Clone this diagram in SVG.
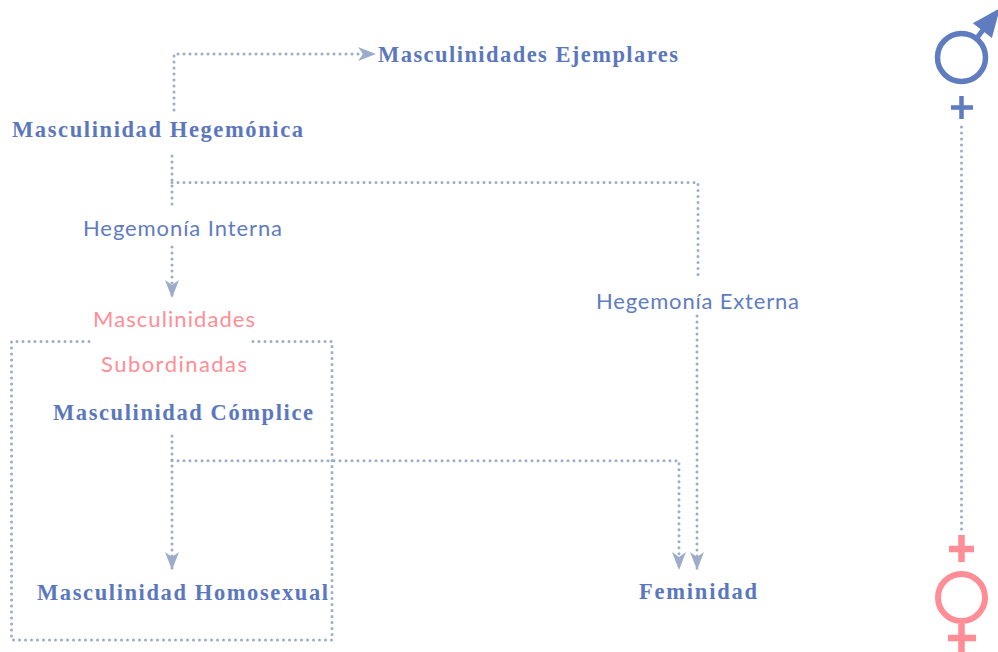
<svg xmlns="http://www.w3.org/2000/svg" width="998" height="652" viewBox="0 0 998 652">
<defs>
<style>
.serif{font-family:"Liberation Serif","Times New Roman",serif;font-weight:bold;font-size:22.5px;fill:#5b77bd;}
.sans{font-family:Lato,"Open Sans",sans-serif;font-size:22px;}
.blue{fill:#5f7cc0;}
.pink{fill:#ff8d95;}
.dot{fill:none;stroke:#9cadc9;stroke-width:3;stroke-linecap:round;stroke-dasharray:0 6;}
.arr{marker-end:url(#ah);}
</style>
<marker id="ah" markerUnits="userSpaceOnUse" markerWidth="20" markerHeight="16" refX="18" refY="7" orient="auto" viewBox="0 0 20 14">
<path d="M0,0 L18,7 L0,14 L5,7 z" fill="#9cadc9"/>
</marker>
</defs>
<rect width="998" height="652" fill="#ffffff"/>

<g id="connectors">
<path class="dot arr" d="M174,110 V54 H376"/>
<path class="dot" d="M172,156 V208"/>
<path class="dot" d="M172,182.5 H698 V280"/>
<path class="dot arr" d="M172,247 V298"/>
<path class="dot arr" d="M697,316 V570"/>
<path class="dot arr" d="M172,436 V570"/>
<path class="dot arr" d="M172,460.7 H679 V570"/>
<path class="dot" d="M961.5,127 V530"/>
</g>

<g id="box-subordinadas">
<path class="dot" d="M89,341.5 H11.5 V640 H332 V341.5 H250"/>
</g>

<g id="n-ejemplares"><text class="serif" x="378" y="62" textLength="300" lengthAdjust="spacing">Masculinidades Ejemplares</text></g>
<g id="n-hegemonica"><text class="serif" x="12" y="137" textLength="291" lengthAdjust="spacing">Masculinidad Hegemónica</text></g>
<g id="n-interna"><text class="sans blue" x="83" y="236" textLength="199" lengthAdjust="spacing">Hegemonía Interna</text></g>
<g id="n-externa"><text class="sans blue" x="596" y="309" textLength="203" lengthAdjust="spacing">Hegemonía Externa</text></g>
<g id="n-subordinadas">
<text class="sans pink" x="93" y="327" textLength="162" lengthAdjust="spacing">Masculinidades</text>
<text class="sans pink" x="101" y="372" textLength="146" lengthAdjust="spacing">Subordinadas</text>
</g>
<g id="n-complice"><text class="serif" x="53" y="420" textLength="260" lengthAdjust="spacing">Masculinidad Cómplice</text></g>
<g id="n-homosexual"><text class="serif" x="37" y="600" textLength="291" lengthAdjust="spacing">Masculinidad Homosexual</text></g>
<g id="n-feminidad"><text class="serif" x="639" y="599" textLength="118" lengthAdjust="spacing">Feminidad</text></g>

<g id="male-symbol">
<circle cx="961.5" cy="57.5" r="24" fill="none" stroke="#5f7cc0" stroke-width="5.5"/>
<line x1="976" y1="39" x2="985" y2="27.5" stroke="#5f7cc0" stroke-width="5"/>
<path d="M972.9,23.3 L1000,8 L991.9,38.1 z" fill="#5f7cc0"/>
<path d="M951,107.5 H973 M961.5,96 V119" stroke="#5f7cc0" stroke-width="4.5" fill="none"/>
</g>

<g id="female-symbol">
<path d="M949,549 H974 M961.5,535 V562" stroke="#ff8d95" stroke-width="6.5" fill="none"/>
<circle cx="961.5" cy="597.5" r="23.5" fill="none" stroke="#ff8d95" stroke-width="6"/>
<path d="M948,638 H976 M961.5,624 V652" stroke="#ff8d95" stroke-width="6.5" fill="none"/>
</g>
</svg>
